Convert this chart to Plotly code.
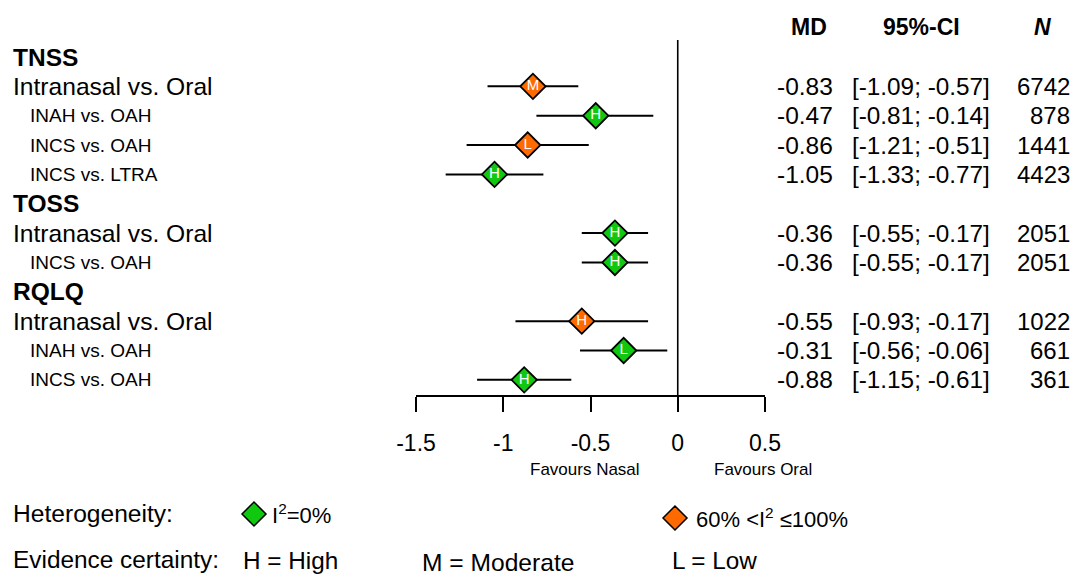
import plotly.graph_objects as go

# ---------------- data ----------------
row_labels = ["TNSS", "Intranasal vs. Oral", "INAH vs. OAH", "INCS vs. OAH", "INCS vs. LTRA",
              "TOSS", "Intranasal vs. Oral", "INCS vs. OAH",
              "RQLQ", "Intranasal vs. Oral", "INAH vs. OAH", "INCS vs. OAH"]
row_level = ["header", "main", "sub", "sub", "sub",
             "header", "main", "sub",
             "header", "main", "sub", "sub"]
md = [None, -0.83, -0.47, -0.86, -1.05, None, -0.36, -0.36, None, -0.55, -0.31, -0.88]
ci_low = [None, -1.09, -0.81, -1.21, -1.33, None, -0.55, -0.55, None, -0.93, -0.56, -1.15]
ci_high = [None, -0.57, -0.14, -0.51, -0.77, None, -0.17, -0.17, None, -0.17, -0.06, -0.61]
n_total = [None, 6742, 878, 1441, 4423, None, 2051, 2051, None, 1022, 661, 361]
heterogeneity = [None, "high", "zero", "high", "zero", None, "zero", "zero", None, "high", "zero", "zero"]
certainty = [None, "M", "H", "L", "H", None, "H", "H", None, "H", "L", "H"]

tick_vals = [-1.5, -1, -0.5, 0, 0.5]
tick_text = ["-1.5", "-1", "-0.5", "0", "0.5"]

GREEN = "#11c811"
ORANGE = "#ff6a00"
het_colors = {"zero": GREEN, "high": ORANGE}

# ---------------- layout helpers ----------------
W, H = 1072, 575
ROW0, ROWSTEP = 57.0, 29.35
FONT = "Liberation Sans, Arial, Helvetica, sans-serif"


def px(x):
    return x / W


def py(y):
    return 1 - y / H


fig = go.Figure()

rows = list(range(len(row_labels)))
data_rows = [i for i in rows if md[i] is not None]

# CI lines
lx, ly = [], []
for i in data_rows:
    lx += [ci_low[i], ci_high[i], None]
    ly += [i, i, None]
fig.add_trace(go.Scatter(x=lx, y=ly, mode="lines", line=dict(color="black", width=2),
                         hoverinfo="skip", showlegend=False))

# diamonds with certainty letter
fig.add_trace(go.Scatter(
    x=[md[i] for i in data_rows], y=data_rows, mode="markers+text",
    marker=dict(symbol="diamond", size=19.5,
                color=[het_colors[heterogeneity[i]] for i in data_rows],
                line=dict(color="black", width=1.8)),
    text=[certainty[i] for i in data_rows], textposition="middle center",
    textfont=dict(family=FONT, size=15, color="white"),
    showlegend=False, cliponaxis=False))

ann = []
# left labels
for i in rows:
    lvl = row_level[i]
    if lvl == "header":
        ann.append(dict(x=px(11), y=i, xref="paper", yref="y", text="<b>%s</b>" % row_labels[i],
                        xanchor="left", yanchor="middle", showarrow=False,
                        font=dict(family=FONT, size=24.5, color="black")))
    elif lvl == "main":
        ann.append(dict(x=px(11), y=i, xref="paper", yref="y", text=row_labels[i],
                        xanchor="left", yanchor="middle", showarrow=False,
                        font=dict(family=FONT, size=24.6, color="black")))
    else:
        ann.append(dict(x=px(28), y=i, xref="paper", yref="y", text=row_labels[i],
                        xanchor="left", yanchor="middle", showarrow=False,
                        font=dict(family=FONT, size=19, color="black")))

# right columns
for i in data_rows:
    ann.append(dict(x=px(835), y=i, xref="paper", yref="y", text="%.2f" % md[i],
                    xanchor="right", yanchor="middle", showarrow=False,
                    font=dict(family=FONT, size=24.5, color="black")))
    ann.append(dict(x=px(921), y=i, xref="paper", yref="y",
                    text="[%.2f; %.2f]" % (ci_low[i], ci_high[i]),
                    xanchor="center", yanchor="middle", showarrow=False,
                    font=dict(family=FONT, size=24.3, color="black")))
    ann.append(dict(x=px(1072), y=i, xref="paper", yref="y", text=str(n_total[i]),
                    xanchor="right", yanchor="middle", showarrow=False,
                    font=dict(family=FONT, size=24, color="black")))

# column headers
for txt, xc in [("<b>MD</b>", 809), ("<b>95%-CI</b>", 921), ("<b><i>N</i></b>", 1042)]:
    ann.append(dict(x=px(xc), y=py(27), xref="paper", yref="paper", text=txt,
                    xanchor="center", yanchor="middle", showarrow=False,
                    font=dict(family=FONT, size=23, color="black")))

# favours labels
ann.append(dict(x=-0.53, y=py(469), xref="x", yref="paper", text="Favours Nasal",
                xanchor="center", yanchor="middle", showarrow=False,
                font=dict(family=FONT, size=17, color="black")))
ann.append(dict(x=0.49, y=py(469), xref="x", yref="paper", text="Favours Oral",
                xanchor="center", yanchor="middle", showarrow=False,
                font=dict(family=FONT, size=17, color="black")))

# bottom legend text
leg = [("Heterogeneity:", 11, 513, 24.6),
       ("I<sup>2</sup>=0%", 270, 514, 22),
       ("60% &lt;I<sup>2</sup> ≤100%", 694, 518, 22),
       ("Evidence certainty:", 11, 559, 24.4),
       ("H = High", 241, 560, 24.3),
       ("M = Moderate", 420, 562, 24.6),
       ("L = Low", 670, 560, 24.3)]
for txt, x0, y0, fs in leg:
    ann.append(dict(x=px(x0), y=py(y0), xref="paper", yref="paper", text=txt,
                    xanchor="left", yanchor="middle", showarrow=False,
                    font=dict(family=FONT, size=fs, color="black")))


def diamond_path(cx, cy, r):
    return "M %f,%f L %f,%f L %f,%f L %f,%f Z" % (
        px(cx - r), py(cy), px(cx), py(cy - r), px(cx + r), py(cy), px(cx), py(cy + r))


shapes = [
    dict(type="line", xref="x", yref="paper", x0=0, x1=0, y0=py(396), y1=py(40),
         line=dict(color="black", width=1.6), layer="below"),
    dict(type="path", xref="paper", yref="paper", path=diamond_path(254, 514, 12),
         fillcolor=GREEN, line=dict(color="black", width=1.5)),
    dict(type="path", xref="paper", yref="paper", path=diamond_path(675, 518, 12),
         fillcolor=ORANGE, line=dict(color="black", width=1.5)),
]

y_top = -ROW0 / ROWSTEP
y_bot = (H - ROW0) / ROWSTEP

fig.update_layout(
    width=W, height=H,
    margin=dict(l=0, r=0, t=0, b=0, pad=0, autoexpand=False),
    paper_bgcolor="white", plot_bgcolor="white",
    showlegend=False,
    annotations=ann, shapes=shapes,
    xaxis=dict(domain=[px(416), px(765)], range=[-1.5, 0.5], anchor="free", position=py(396),
               showgrid=False, zeroline=False, showline=True, linecolor="black", linewidth=1.6,
               ticks="outside", ticklen=15, tickwidth=1.6, tickcolor="black",
               tickvals=tick_vals, ticktext=tick_text, ticklabelstandoff=12,
               automargin=False,
               tickfont=dict(family=FONT, size=23, color="black")),
    yaxis=dict(domain=[0, 1], range=[y_bot, y_top], visible=False, automargin=False),
)

fig.write_html("out.html", config={"displayModeBar": False},
               post_script="document.body.style.margin='0px';")
